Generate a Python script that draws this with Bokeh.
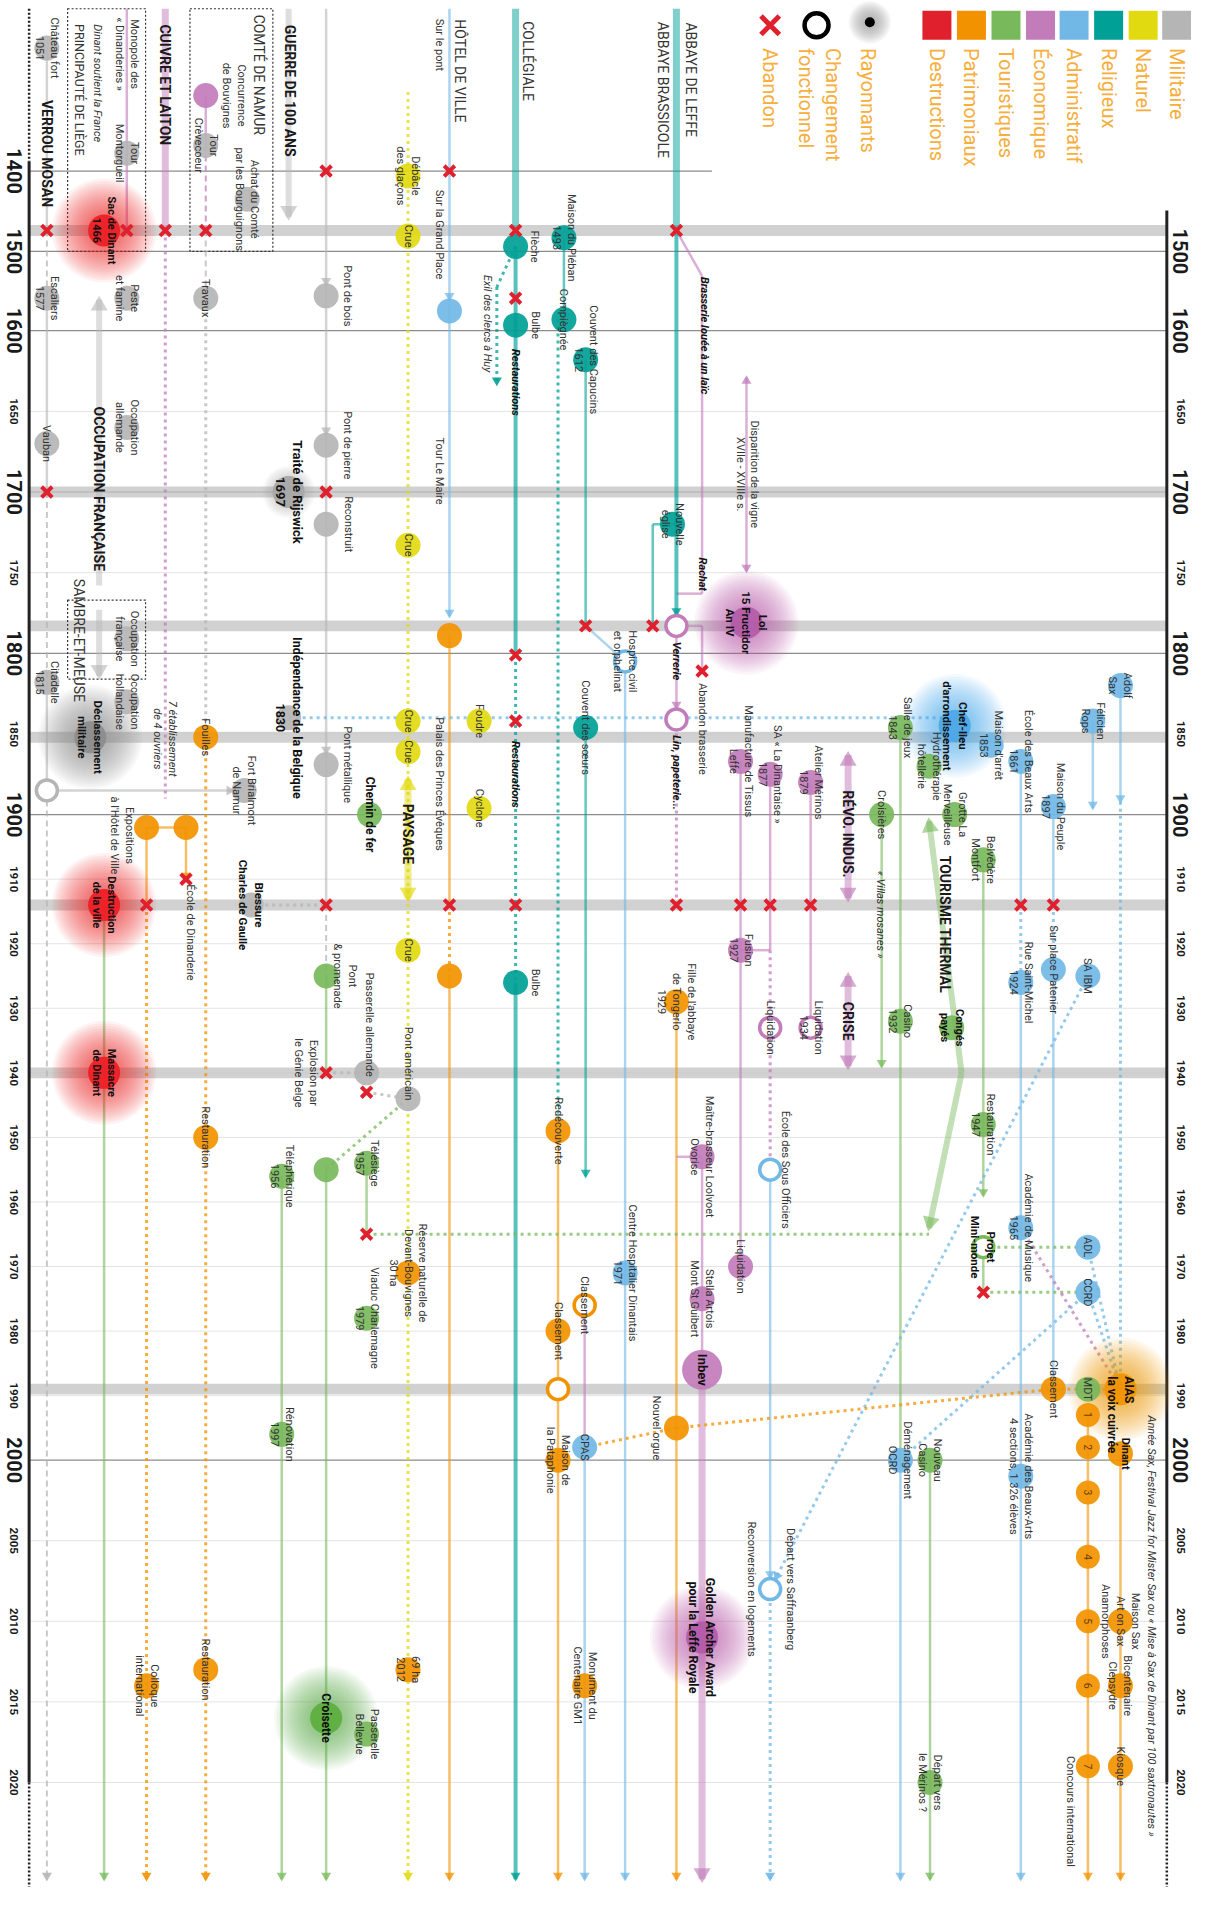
import math
from bokeh.plotting import figure
from bokeh.models import Range1d
from bokeh.embed import file_html
from bokeh.resources import INLINE
from bokeh.core.properties import value

FONT = "Roboto"
ROT = -math.pi / 2

# ---------------- categories ----------------
CAT_COLORS = {"mil": "#b5b5b5", "nat": "#e2da10", "rel": "#00a096", "adm": "#72b8e6",
              "eco": "#c27cba", "tou": "#78b95c", "pat": "#f39200", "des": "#e0202c"}
GLOW_COLORS = {"mil": "#8c8c8c", "nat": "#e2da10", "rel": "#00a096", "adm": "#4aa6e6",
               "eco": "#b35aa8", "tou": "#5aad3c", "pat": "#f39200", "des": "#ee1c24"}
LEGEND_CATS = ["des", "pat", "tou", "eco", "adm", "rel", "nat", "mil"]
LEGEND_LABELS = ["Destructions", "Patrimoniaux", "Touristiques", "Économique",
                 "Administratif", "Religieux", "Naturel", "Militaire"]

# ---------------- timeline scale (piecewise, as in the graphic) ----------------
SCALE_YEARS = [1050, 1400, 1500, 1600, 1900, 2000, 2020]
SCALE_PIX = [48, 172, 253, 333, 821, 1472, 1797]

MAJOR_YEARS = [1400, 1500, 1600, 1700, 1800, 1900, 2000]
MINOR_YEARS = [1650, 1750, 1850, 1910, 1920, 1930, 1940, 1950, 1960, 1970, 1980, 1990,
               2005, 2010, 2015, 2020]
BAND_YEARS = [1474, 1700, 1783, 1852, 1914, 1940, 1989]
TOP_YEAR, END_YEAR = 938, 2026

# ---------------- lanes (layout) ----------------
LANE_X = {
    "verrou": 47, "declass": 91, "occup": 100, "sac": 105, "monop": 128, "expo": 148, "cuivre": 167,
    "ecole": 188, "creve": 208, "brial": 247, "achat": 250, "blessure": 254, "teleph": 285,
    "guerre": 292, "pont": 330, "passer": 371, "chemin": 374, "nat": 413, "hdv": 455, "foudre": 485,
    "exil": 503, "coll": 522, "redec": 565, "pleban": 571, "classe": 592, "capu": 593, "hosp": 633,
    "eglise": 661, "eglise2": 681, "leffe": 685, "brass": 711, "manuf": 750, "loi": 756,
    "dinant": 780, "merinos": 821, "revo": 859, "crois": 893, "salle": 912, "hydro": 941,
    "casino2": 942, "conges": 964, "chef": 967, "therm": 974, "belv": 996, "arret": 1004,
    "beaux": 1034, "peuple": 1067, "ibm": 1102, "rops": 1107, "sax": 1135,
}

# ---------------- events: lane, year, category, kind, label ----------------
EVENTS = [
    ("verrou", 1050, "mil", "dot", "Château fort\n1051"),
    ("verrou", 1474, "des", "cross", ""),
    ("verrou", 1559, "mil", "dot", "Escaliers\n1577"),
    ("verrou", 1670, "mil", "dot", "Vauban"),
    ("verrou", 1700, "des", "cross", ""),
    ("verrou", 1818, "mil", "dot", "Citadelle\n1815"),
    ("verrou", 1885, "mil", "ring", ""),
    ("brial", 1885, "mil", "dot", "Fort Brialmont\nde Namur"),
    ("sac", 1474, "des", "glow", "Sac de Dinant\n1466"),
    ("monop", 1349, "mil", "dot", "Tour\nMontorgueil"),
    ("monop", 1474, "des", "cross", ""),
    ("monop", 1559, "mil", "dot", "Peste\net famine"),
    ("monop", 1660, "mil", "dot", "Occupation\nallemande"),
    ("monop", 1791, "mil", "dot", "Occupation\nfrançaise"),
    ("monop", 1830, "mil", "dot", "Occupation\nhollandaise"),
    ("declass", 1852, "mil", "glow", "Déclassement\nmilitaire"),
    ("cuivre", 1474, "des", "cross", ""),
    ("creve", 1185, "eco", "dot", "Concurrence\nde Bouvignes"),
    ("creve", 1327, "mil", "dot", "Tour\nCrèvecoeur"),
    ("creve", 1474, "des", "cross", ""),
    ("creve", 1559, "mil", "dot", "Travaux"),
    ("creve", 1852, "pat", "dot", "Fouilles"),
    ("creve", 1950, "pat", "dot", "Restauration"),
    ("creve", 2013, "pat", "dot", "Restauration"),
    ("achat", 1435, "mil", "dot", "Achat du Comté\npar les Bourguignons"),
    ("guerre", 1700, "mil", "halo", "Traité de Rijswick\n1697"),
    ("guerre", 1840, "mil", "dot", "Indépendance de la Belgique\n1830"),
    ("blessure", 1914, "mil", "dot", "Blessure\nCharles de Gaulle"),
    ("pont", 1400, "des", "cross", ""),
    ("pont", 1556, "mil", "dot", "Pont de bois"),
    ("pont", 1671, "mil", "dot", "Pont de pierre"),
    ("pont", 1700, "des", "cross", ""),
    ("pont", 1720, "mil", "dot", "Reconstruit"),
    ("pont", 1869, "mil", "dot", "Pont métallique"),
    ("pont", 1914, "des", "cross", ""),
    ("pont", 1925, "tou", "dot", "Pont\n& promenade"),
    ("pont", 1940, "des", "cross", "Explosion par\nle Génie Belge"),
    ("passer", 1940, "mil", "dot", "Passerelle allemande"),
    ("passer", 1943, "des", "cross", ""),
    ("nat", 1944, "mil", "dot", "Pont américain"),
    ("pont", 1955, "tou", "dot", ""),
    ("pont", 2016, "tou", "glow", "Croisette"),
    ("passer", 2017, "tou", "dot", "Passerelle\nBellevue"),
    ("passer", 1954, "tou", "dot", "Télésiège\n1957"),
    ("passer", 1965, "des", "cross", ""),
    ("passer", 1978, "tou", "dot", "Viaduc Charlemagne\n1979"),
    ("chemin", 1900, "tou", "dot", "Chemin de fer"),
    ("teleph", 1956, "tou", "dot", "Téléphérique\n1956"),
    ("teleph", 1996, "tou", "dot", "Rénovation\n1997"),
    ("nat", 1406, "nat", "dot", "Débâcle\ndes glaçons"),
    ("nat", 1481, "nat", "dot", "Crue"),
    ("nat", 1733, "nat", "dot", "Crue"),
    ("nat", 1842, "nat", "dot", "Crue"),
    ("nat", 1861, "nat", "dot", "Crue"),
    ("nat", 1921, "nat", "dot", "Crue"),
    ("nat", 1971, "pat", "dot", "Réserve naturelle de\nDevant-Bouvignes\n30 ha"),
    ("nat", 2013, "pat", "dot", "69 ha\n2012"),
    ("foudre", 1842, "nat", "dot", "Foudre"),
    ("foudre", 1896, "nat", "dot", "Cyclone"),
    ("hdv", 1400, "des", "cross", ""),
    ("hdv", 1575, "adm", "dot", ""),
    ("hdv", 1789, "pat", "dot", ""),
    ("hdv", 1914, "des", "cross", ""),
    ("hdv", 1925, "pat", "dot", ""),
    ("coll", 1474, "des", "cross", ""),
    ("coll", 1494, "rel", "dot", "Flèche"),
    ("coll", 1559, "des", "cross", ""),
    ("coll", 1593, "rel", "dot", "Bulbe"),
    ("coll", 1801, "des", "cross", ""),
    ("coll", 1842, "des", "cross", ""),
    ("coll", 1914, "des", "cross", ""),
    ("coll", 1926, "rel", "dot", "Bulbe"),
    ("pleban", 1483, "rel", "dot", "Maison du Pléban\n1493"),
    ("pleban", 1586, "rel", "dot", "Compiègnée"),
    ("redec", 1949, "pat", "dot", "Redécouverte"),
    ("redec", 1980, "pat", "dot", "Classement"),
    ("redec", 1989, "pat", "ring", ""),
    ("redec", 2000, "pat", "dot", "Maison de\nla Pataphonie"),
    ("capu", 1618, "rel", "dot", "Couvent des Capucins\n1612"),
    ("capu", 1783, "des", "cross", ""),
    ("hosp", 1805, "adm", "ring", "Hospice civil\net orphelinat"),
    ("capu", 1846, "rel", "dot", "Couvent des sœurs"),
    ("hosp", 1971, "adm", "dot", "Centre Hospitalier Dinantais\n1971"),
    ("classe", 1976, "pat", "ring", "Classement"),
    ("classe", 1998, "adm", "dot", "CPAS"),
    ("classe", 2014, "pat", "dot", "Monument du\nCentenaire GM1"),
    ("leffe", 1474, "des", "cross", ""),
    ("eglise2", 1720, "rel", "dot", "Nouvelle\néglise"),
    ("eglise", 1783, "des", "cross", ""),
    ("leffe", 1783, "eco", "ring", "Verrerie"),
    ("leffe", 1841, "eco", "ring", "Lin, papeterie..."),
    ("leffe", 1914, "des", "cross", ""),
    ("leffe", 1929, "pat", "dot", "Fille de l'abbaye\nde Tongerlo\n1929"),
    ("leffe", 1995, "pat", "dot", "Nouvel orgue"),
    ("brass", 1811, "des", "cross", "Abandon brasserie"),
    ("brass", 1953, "eco", "dot", "Maître-brasseur Loolvoet\nOvorise"),
    ("brass", 1975, "eco", "dot", "Stella Artois\nMont St Guibert"),
    ("brass", 1986, "eco", "big", "Inbev"),
    ("brass", 2011, "eco", "glow", "Golden Archer Award\npour la Leffe Royale"),
    ("loi", 1781, "eco", "glow", "Loi\n15 Fructidor\nAn IV"),
    ("manuf", 1867, "eco", "dot", "Manufacture de Tissus\nLeffe"),
    ("manuf", 1914, "des", "cross", ""),
    ("manuf", 1921, "eco", "dot", "Fusion\n1927"),
    ("manuf", 1970, "eco", "dot", "Liquidation"),
    ("dinant", 1875, "eco", "dot", "SA « La Dinantaise »\n1877"),
    ("dinant", 1914, "des", "cross", ""),
    ("dinant", 1933, "eco", "ring", "Liquidation"),
    ("dinant", 1955, "adm", "ring", "École des Sous Officiers"),
    ("dinant", 2008, "adm", "ring", "Reconversion en logements"),
    ("merinos", 1880, "eco", "dot", "Atelier Mérinos\n1879"),
    ("merinos", 1914, "des", "cross", ""),
    ("merinos", 1933, "eco", "ring", "Liquidation\n1934"),
    ("crois", 1900, "tou", "dot", "Croisières"),
    ("salle", 1846, "tou", "dot", "Salle de jeux\n1843"),
    ("salle", 1932, "tou", "dot", "Casino\n1932"),
    ("salle", 2000, "adm", "dot", "Déménagement\nOCRD"),
    ("hydro", 1870, "tou", "dot", "Hydrothérapie\nhôtellerie"),
    ("casino2", 2000, "tou", "dot", "Nouveau\nCasino"),
    ("casino2", 2020, "tou", "dot", "Départ vers\nle Mérinos ?"),
    ("chef", 1845, "adm", "glow", "Chef-lieu\nd'arrondissement"),
    ("chef", 1900, "tou", "dot", "Grotte La\nMerveilleuse"),
    ("conges", 1933, "tou", "dot", "Congés\npayés"),
    ("belv", 1907, "tou", "dot", "Belvédère\nMontfort"),
    ("belv", 1948, "tou", "dot", "Restauration\n1947"),
    ("belv", 1967, "tou", "ring", "Projet\nMini-monde"),
    ("belv", 1974, "des", "cross", ""),
    ("arret", 1857, "adm", "dot", "Maison d'arrêt\n1853"),
    ("beaux", 1867, "adm", "dot", "École des Beaux Arts\n1861"),
    ("beaux", 1914, "des", "cross", ""),
    ("beaux", 1926, "adm", "dot", "Rue Saint-Michel\n1924"),
    ("beaux", 1964, "adm", "dot", "Académie de Musique\n1965"),
    ("beaux", 2001, "adm", "dot", "Académie des Beaux-Arts\n4 sections, 1 326 élèves"),
    ("peuple", 1895, "adm", "dot", "Maison du Peuple\n1897"),
    ("peuple", 1914, "des", "cross", ""),
    ("peuple", 1924, "adm", "dot", "Sur place Patenier"),
    ("peuple", 1989, "pat", "dot", "Classement"),
    ("rops", 1842, "adm", "dot", "Félicien\nRops"),
    ("sax", 1820, "adm", "dot", "Adolf\nSax"),
    ("ibm", 1925, "adm", "dot", "SA IBM"),
    ("ibm", 1967, "adm", "dot", "ADL"),
    ("ibm", 1974, "adm", "dot", "CCRD"),
    ("ibm", 1989, "tou", "dot", "MDT"),
    ("sax", 1989, "pat", "glow", "AIAS\nla voix cuivrée"),
    ("ibm", 1993, "pat", "num", "1"),
    ("ibm", 1998, "pat", "num", "2"),
    ("ibm", 2002, "pat", "num", "3"),
    ("ibm", 2006, "pat", "num", "4"),
    ("ibm", 2010, "pat", "num", "5"),
    ("ibm", 2014, "pat", "num", "6"),
    ("ibm", 2019, "pat", "num", "7"),
    ("sax", 1999, "pat", "dot", "Dinant"),
    ("sax", 2010, "pat", "dot", "Maison Sax\nArt on Sax\nAnamorphoses"),
    ("sax", 2014, "pat", "dot", "Bicentenaire\nClepsydre"),
    ("sax", 2019, "pat", "dot", "Kiosque"),
    ("expo", 1902, "pat", "dot", "Expositions\nà l'Hôtel de Ville"),
    ("ecole", 1902, "pat", "dot", ""),
    ("ecole", 1910, "des", "cross", "École de Dinanderie"),
    ("expo", 1914, "des", "cross", ""),
    ("expo", 2014, "pat", "dot", "Colloque\ninternational"),
    ("sac", 1914, "des", "glow", "Destruction\nde la ville"),
    ("sac", 1940, "des", "glow", "Massacre\nde Dinant"),
]

# ---------------- connections: from lane/year -> to lane/year, category, style, arrow ----------------
LINKS = [
    ("verrou", 1050, "verrou", 1474, "mil", "solid", ""),
    ("verrou", 1474, "verrou", 1559, "mil", "dash", ""),
    ("verrou", 1559, "verrou", 1700, "mil", "solid", ""),
    ("verrou", 1700, "verrou", 1818, "mil", "dash", ""),
    ("verrou", 1818, "verrou", 1885, "mil", "solid", ""),
    ("verrou", 1885, "verrou", 2026, "mil", "dash", "end"),
    ("verrou", 1885, "brial", 1885, "mil", "solid", "end"),
    ("monop", 938, "monop", 1474, "eco", "solid", ""),
    ("cuivre", 938, "cuivre", 1474, "eco", "thick", ""),
    ("cuivre", 1474, "cuivre", 1890, "eco", "dot", ""),
    ("occup", 1561, "occup", 1758, "mil", "xthick", "start"),
    ("occup", 1773, "occup", 1814, "mil", "xthick", "end"),
    ("creve", 1185, "creve", 1327, "eco", "solid", ""),
    ("creve", 1327, "creve", 1474, "eco", "dash", ""),
    ("creve", 1474, "creve", 1559, "mil", "dash", ""),
    ("creve", 1559, "creve", 1852, "mil", "dot", ""),
    ("creve", 1852, "creve", 2026, "pat", "dot", "end"),
    ("guerre", 938, "guerre", 1457, "mil", "xthick", "end"),
    ("pont", 938, "pont", 1556, "mil", "solid", "end"),
    ("pont", 1556, "pont", 1671, "mil", "solid", "end"),
    ("pont", 1671, "pont", 1869, "mil", "solid", "end"),
    ("pont", 1869, "pont", 1914, "mil", "solid", ""),
    ("pont", 1914, "pont", 1925, "mil", "dash", ""),
    ("pont", 1925, "pont", 1940, "tou", "solid", ""),
    ("pont", 1940, "passer", 1940, "mil", "dot", ""),
    ("passer", 1943, "nat", 1944, "mil", "dot", ""),
    ("nat", 1944, "pont", 1955, "tou", "dot", ""),
    ("pont", 1955, "pont", 2026, "tou", "solid", "end"),
    ("blessure", 1914, "pont", 1914, "mil", "dot", ""),
    ("teleph", 1956, "teleph", 2026, "tou", "solid", "end"),
    ("passer", 1954, "passer", 1965, "tou", "solid", ""),
    ("passer", 1965, "hydro", 1965, "tou", "dot", ""),
    ("guerre", 1840, "chef", 1840, "adm", "dot", ""),
    ("nat", 1175, "nat", 2026, "nat", "dot", "end"),
    ("nat", 1878, "nat", 1913, "nat", "thick", "both"),
    ("hdv", 938, "hdv", 1575, "adm", "solid", "end"),
    ("hdv", 1575, "hdv", 1777, "adm", "solid", "end"),
    ("hdv", 1789, "hdv", 1914, "pat", "solid", ""),
    ("hdv", 1914, "hdv", 1925, "pat", "dot", ""),
    ("hdv", 1925, "hdv", 2026, "pat", "solid", "end"),
    ("coll", 938, "coll", 1474, "rel", "thick", ""),
    ("coll", 1494, "coll", 1801, "rel", "medium", ""),
    ("coll", 1801, "coll", 1926, "rel", "dot", ""),
    ("coll", 1926, "coll", 2026, "rel", "medium", "end"),
    ("coll", 1494, "exil", 1545, "rel", "dot", ""),
    ("exil", 1545, "exil", 1633, "rel", "dot", "end"),
    ("pleban", 1483, "pleban", 1586, "rel", "solid", ""),
    ("redec", 1586, "redec", 1949, "rel", "dot", ""),
    ("redec", 1949, "redec", 2026, "pat", "solid", "end"),
    ("capu", 1618, "capu", 1783, "rel", "solid", ""),
    ("capu", 1783, "hosp", 1805, "adm", "solid", ""),
    ("hosp", 1805, "hosp", 2026, "adm", "solid", "end"),
    ("capu", 1846, "capu", 1956, "rel", "solid", "end"),
    ("classe", 1976, "classe", 1998, "eco", "solid", ""),
    ("classe", 1998, "classe", 2026, "adm", "solid", "end"),
    ("leffe", 938, "leffe", 1474, "rel", "thick", ""),
    ("leffe", 1474, "leffe", 1783, "rel", "medium", "end"),
    ("leffe", 1720, "eglise", 1720, "rel", "solid", ""),
    ("eglise", 1720, "eglise", 1783, "rel", "solid", ""),
    ("leffe", 1783, "leffe", 1841, "eco", "solid", "end"),
    ("leffe", 1841, "leffe", 1914, "eco", "dot", ""),
    ("leffe", 1929, "leffe", 2026, "pat", "solid", "end"),
    ("leffe", 1474, "brass", 1531, "eco", "solid", ""),
    ("brass", 1531, "brass", 1763, "eco", "solid", ""),
    ("brass", 1763, "leffe", 1763, "eco", "solid", ""),
    ("leffe", 1783, "brass", 1783, "eco", "solid", ""),
    ("brass", 1783, "brass", 1811, "eco", "solid", ""),
    ("leffe", 1953, "brass", 1953, "eco", "solid", ""),
    ("brass", 1953, "brass", 1986, "eco", "solid", ""),
    ("brass", 1986, "brass", 2026, "eco", "thick", "end"),
    ("loi", 1629, "loi", 1749, "eco", "solid", "both"),
    ("manuf", 1867, "manuf", 1970, "eco", "solid", ""),
    ("dinant", 1875, "dinant", 1921, "eco", "solid", ""),
    ("dinant", 1921, "manuf", 1921, "eco", "solid", ""),
    ("dinant", 1921, "dinant", 1955, "eco", "dot", ""),
    ("dinant", 1955, "dinant", 2008, "adm", "solid", "end"),
    ("dinant", 2008, "dinant", 2026, "adm", "dot", "end"),
    ("merinos", 1880, "merinos", 1933, "eco", "solid", ""),
    ("revo", 1863, "revo", 1913, "eco", "thick", "both"),
    ("revo", 1925, "revo", 1939, "eco", "thick", "both"),
    ("crois", 1900, "crois", 1939, "tou", "solid", "end"),
    ("salle", 1846, "salle", 2000, "tou", "solid", ""),
    ("salle", 2000, "salle", 2026, "adm", "solid", "end"),
    ("casino2", 2000, "casino2", 2026, "tou", "solid", "end"),
    ("hydro", 1901, "therm", 1940, "tou", "xthick", "start"),
    ("therm", 1940, "hydro", 1964, "tou", "xthick", "end"),
    ("belv", 1907, "belv", 1959, "tou", "solid", "end"),
    ("belv", 1967, "belv", 1974, "tou", "solid", ""),
    ("belv", 1967, "ibm", 1967, "tou", "dot", ""),
    ("belv", 1974, "ibm", 1974, "tou", "dot", ""),
    ("beaux", 1867, "beaux", 1914, "adm", "solid", ""),
    ("beaux", 1914, "beaux", 1926, "adm", "dot", ""),
    ("beaux", 1926, "beaux", 2026, "adm", "solid", "end"),
    ("peuple", 1895, "peuple", 1914, "adm", "solid", ""),
    ("peuple", 1914, "peuple", 1924, "adm", "dot", ""),
    ("peuple", 1924, "peuple", 1989, "adm", "solid", ""),
    ("rops", 1842, "rops", 1896, "adm", "solid", "end"),
    ("sax", 1820, "sax", 1892, "adm", "solid", "end"),
    ("sax", 1892, "sax", 1989, "adm", "dot", ""),
    ("ibm", 1925, "dinant", 2008, "adm", "dot", "end"),
    ("ibm", 1974, "salle", 2000, "adm", "dot", ""),
    ("ibm", 1967, "sax", 1989, "adm", "dot", ""),
    ("ibm", 1974, "sax", 1989, "adm", "dot", ""),
    ("beaux", 1964, "sax", 1989, "eco", "dot", ""),
    ("ibm", 1993, "ibm", 2026, "pat", "solid", "end"),
    ("sax", 1999, "sax", 2026, "pat", "solid", "end"),
    ("classe", 1998, "leffe", 1995, "pat", "dot", ""),
    ("leffe", 1995, "peuple", 1989, "pat", "dot", ""),
    ("peuple", 1989, "sax", 1989, "pat", "dot", ""),
    ("expo", 1902, "ecole", 1902, "pat", "solid", ""),
    ("expo", 1902, "expo", 1914, "pat", "solid", ""),
    ("expo", 1914, "expo", 2026, "pat", "dot", "end"),
    ("ecole", 1902, "ecole", 1910, "pat", "solid", "end"),
    ("sac", 1914, "sac", 2026, "tou", "solid", "end"),
]

# ---------------- free annotations: text, x, year, kind ----------------
NOTES = [
    ("VERROU MOSAN", 47, 1350, "section"),
    ("PRINCIPAUTÉ DE LIÈGE", 80, 1169, "lane12"),
    ("Dinant soutient la France", 98, 1150, "it"),
    ("Monopole des\n« Dinanderies »", 128, 1067, "note"),
    ("CUIVRE ET LAITON", 167, 1155, "section"),
    ("COMTÉ DE NAMUR", 262, 1126, "lane"),
    ("GUERRE DE 100 ANS", 293, 1171, "section"),
    ("OCCUPATION FRANÇAISE", 100, 1698, "section"),
    ("SAMBRE-ET-MEUSE", 80, 1792, "lane"),
    ("7 établissement\nde 4 ouvriers", 167, 1853, "it"),
    ("HÔTEL DE VILLE", 466, 1115, "lane"),
    ("Sur le pont", 445, 1041, "note"),
    ("Sur la Grand Place", 445, 1479, "note"),
    ("Tour Le Maire", 445, 1687, "note"),
    ("Palais des Princes Évêques", 445, 1881, "note"),
    ("PAYSAGE", 413, 1903, "section"),
    ("COLLÉGIALE", 535, 1087, "lane"),
    ("Restaurations", 522, 1632, "bi"),
    ("Restaurations", 522, 1875, "bi"),
    ("Exil des clercs à Huy", 494, 1591, "it"),
    ("ABBAYE BRASSICOLE", 671, 1169, "lane"),
    ("ABBAYE DE LEFFE", 700, 1140, "lane"),
    ("Brasserie louée à un laïc", 713, 1603, "bi"),
    ("Rachat", 711, 1751, "bi"),
    ("Disparition de la vigne\nXVIIe - XVIIIe s.", 757, 1689, "note"),
    ("RÉVO. INDUS.", 859, 1903, "section"),
    ("CRISE", 859, 1932, "section"),
    ("TOURISME THERMAL", 957, 1917, "section"),
    ("« Villas mosanes »", 892, 1915.5, "it"),
    ("Départ vers Saffraanberg", 801, 2008, "note"),
    ("Concours international", 1084, 2021.8, "note"),
    ("Année Sax, Festival Jazz for Mister Sax ou « Mise à Sax de Dinant par 100 saxtronautes »",
     1166, 2010.3, "it"),
]

# ---------------- layout / style tables ----------------
LABEL_LAYOUT = {
    "Concurrence\nde Bouvignes": (29, 0, "center"),
    "Pont de bois": (22, 0, "center"),
    "Pont de pierre": (22, 0, "center"),
    "Reconstruit": (23, 0, "center"),
    "Pont métallique": (22, 0, "center"),
    "Pont\n& promenade": (19, 0, "center"),
    "Flèche": (19, 0, "center"),
    "Bulbe": (20, 0, "center"),
    "Explosion par\nle Génie Belge": (-20, 0, "center"),
    "Passerelle allemande": (3, 4, "right"),
    "Pont américain": (0, 2, "right"),
    "Expositions\nà l'Hôtel de Ville": (-25, 8, "center"),
    "École de Dinanderie": (5, 5, "left"),
    "Verrerie": (0, 16, "left"),
    "Lin, papeterie...": (0, 16, "left"),
    "Abandon brasserie": (0, 12, "left"),
    "École des Sous Officiers": (16, 0, "center"),
    "Reconversion en logements": (-19, 0, "center"),
    "Nouvel orgue": (-20, 0, "center"),
    "AIAS\nla voix cuivrée": (0, -13, "left"),
    "Dinant": (5, 0, "center"),
}
BOLD_LABELS = {
    "Sac de Dinant\n1466": 11, "Déclassement\nmilitaire": 11.5, "Destruction\nde la ville": 11,
    "Massacre\nde Dinant": 11, "Traité de Rijswick\n1697": 13,
    "Indépendance de la Belgique\n1830": 12.5, "Blessure\nCharles de Gaulle": 11.5,
    "Chemin de fer": 12, "Croisette": 12, "Inbev": 13,
    "Golden Archer Award\npour la Leffe Royale": 12.5, "Loi\n15 Fructidor\nAn IV": 11.5,
    "Chef-lieu\nd'arrondissement": 11.5, "Congés\npayés": 11, "Projet\nMini-monde": 11.5,
    "AIAS\nla voix cuivrée": 12, "Dinant": 11,
}
BOLD_ITALIC_LABELS = {"Verrerie", "Lin, papeterie..."}
NOTE_STYLE = {
    "section": (14, "bold", "#1a1a1a"),
    "lane": (14, "normal", "#333333"),
    "lane12": (12.5, "normal", "#333333"),
    "note": (11, "normal", "#333333"),
    "it": (11, "italic", "#333333"),
    "bi": (11, "bold italic", "#111111"),
}
LINE_STYLE = {  # width, alpha, dash
    "solid": (2.5, 0.6, "solid"),
    "medium": (4, 0.65, "solid"),
    "thick": (7, 0.5, "solid"),
    "xthick": (6, 0.45, "solid"),
    "dash": (2, 0.75, "6 4"),
    "dot": (3, 0.75, "3 4"),
}
BOXES = [(68, 147, 938, 1500), (192, 276, 938, 1500), (68, 147, 1767, 1816)]


def ty(yr):
    ys, ps = SCALE_YEARS, SCALE_PIX
    if yr <= ys[0]:
        i = 0
    elif yr >= ys[-1]:
        i = len(ys) - 2
    else:
        i = max(k for k in range(len(ys) - 1) if ys[k] <= yr)
    return ps[i] + (yr - ys[i]) * (ps[i + 1] - ps[i]) / (ys[i + 1] - ys[i])


p = figure(width=1191, height=1894, x_range=Range1d(0, 1207), y_range=Range1d(1910, 0),
           output_backend="svg", toolbar_location=None, x_axis_location=None,
           y_axis_location=None, min_border=0)
p.grid.visible = False
p.outline_line_color = None
p.background_fill_color = "white"
p.border_fill_color = "white"

AXL, AXR = 29, 1182

# --- faint and major year lines
p.segment(x0=[AXL] * len(MINOR_YEARS), y0=[ty(y) for y in MINOR_YEARS],
          x1=[AXR] * len(MINOR_YEARS), y1=[ty(y) for y in MINOR_YEARS],
          line_color="#e4e4e4", line_width=1)
maj = [y for y in MAJOR_YEARS]
p.segment(x0=[AXL] * len(maj), y0=[ty(y) for y in maj],
          x1=[721 if y == 1400 else AXR for y in maj], y1=[ty(y) for y in maj],
          line_color="#8c8c8c", line_width=1.3)

# --- event bands
p.hbar(y=[ty(b) for b in BAND_YEARS], left=AXL, right=AXR, height=11,
       fill_color="#c6c6c6", fill_alpha=0.8, line_color=None)

# --- dotted boxes
p.quad(left=[b[0] for b in BOXES], right=[b[1] for b in BOXES],
       top=[ty(b[2]) for b in BOXES], bottom=[ty(b[3]) for b in BOXES],
       fill_color=None, line_color="#333333", line_width=1.2, line_dash="2 2")

# --- links
ev_pos = set((e[0], e[1]) for e in EVENTS if e[3] in ("dot", "ring", "big", "glow", "num", "halo"))
arrows = {"x": [], "y": [], "a": [], "s": [], "c": [], "al": []}
for style, (w, a, dash) in LINE_STYLE.items():
    sel = [l for l in LINKS if l[5] == style]
    if not sel:
        continue
    p.segment(x0=[LANE_X[l[0]] for l in sel], y0=[ty(l[1]) for l in sel],
              x1=[LANE_X[l[2]] for l in sel], y1=[ty(l[3]) for l in sel],
              line_color=[CAT_COLORS[l[4]] for l in sel], line_width=w, line_alpha=a,
              line_dash=dash)
for l in LINKS:
    if not l[6]:
        continue
    w, a, dash = LINE_STYLE[l[5]]
    size = 17 if l[5] in ("thick", "xthick") else 10
    ends = []
    if l[6] in ("end", "both"):
        ends.append(((l[2], l[3]), (l[0], l[1])))
    if l[6] in ("start", "both"):
        ends.append(((l[0], l[1]), (l[2], l[3])))
    for (le, ye), (ls, ys_) in ends:
        xe, yE, xs, yS = LANE_X[le], ty(ye), LANE_X[ls], ty(ys_)
        dx, dy = xe - xs, yE - yS
        L = math.hypot(dx, dy) or 1.0
        off = 15 if (le, ye) in ev_pos else size * 0.35
        arrows["x"].append(xe - dx / L * off)
        arrows["y"].append(yE - dy / L * off)
        arrows["a"].append(math.atan2(-dy, dx) - math.pi / 2)
        arrows["s"].append(size)
        arrows["c"].append(CAT_COLORS[l[4]])
        arrows["al"].append(min(1.0, a + 0.15))
p.scatter(x=arrows["x"], y=arrows["y"], marker="triangle", angle=arrows["a"], size=arrows["s"],
          fill_color=arrows["c"], fill_alpha=arrows["al"], line_color=None)

# --- axes lines
p.segment(x0=[AXL, AXL, AXR], y0=[ty(1372), ty(1372), ty(1449)], x1=[AXL, AXL, AXR],
          y1=[ty(1372), ty(2020), ty(2020)], line_color="#222222", line_width=3)
p.segment(x0=[AXL, AXL, AXR], y0=[ty(TOP_YEAR), ty(2020), ty(2020)], x1=[AXL, AXL, AXR],
          y1=[ty(1372), ty(END_YEAR) + 8, ty(END_YEAR) + 8], line_color="#222222",
          line_width=2.5, line_dash="2 2")

# --- glows (soft radial halo built from stacked translucent discs)
glow = [e for e in EVENTS if e[3] == "glow"]
gx = [LANE_X[e[0]] for e in glow]
gy = [ty(e[1]) for e in glow]
gc = [GLOW_COLORS[e[2]] for e in glow]
for sz in range(104, 30, -5):
    p.scatter(x=gx, y=gy, size=sz, fill_color=gc, fill_alpha=0.06, line_color=None)
p.scatter(x=gx, y=gy, size=32, fill_color=gc, fill_alpha=0.9, line_color=None)
halo = [e for e in EVENTS if e[3] == "halo"]
hx = [LANE_X[e[0]] for e in halo]
hy = [ty(e[1]) for e in halo]
for sz in range(52, 30, -4):
    p.scatter(x=hx, y=hy, size=sz, fill_color="#a0a0a0", fill_alpha=0.07, line_color=None)
p.scatter(x=hx, y=hy, size=32, fill_color="#a8a8a8", fill_alpha=0.95, line_color=None)

# --- dots
for kind, sz in (("dot", 25), ("num", 24), ("big", 40)):
    sel = [e for e in EVENTS if e[3] == kind]
    p.scatter(x=[LANE_X[e[0]] for e in sel], y=[ty(e[1]) for e in sel], size=sz,
              fill_color=[CAT_COLORS[e[2]] for e in sel], fill_alpha=0.92, line_color=None)
sel = [e for e in EVENTS if e[3] == "ring"]
p.scatter(x=[LANE_X[e[0]] for e in sel], y=[ty(e[1]) for e in sel], size=21,
          fill_color="white", line_color=[CAT_COLORS[e[2]] for e in sel], line_width=3.5)
sel = [e for e in EVENTS if e[3] == "cross"]
p.scatter(x=[LANE_X[e[0]] for e in sel], y=[ty(e[1]) for e in sel], size=15, marker="x",
          line_color=CAT_COLORS["des"], line_width=4)

# --- labels
labels = {}


def add_label(x, y, text, size, style, color, align="center"):
    key = (size, style, color, align)
    d = labels.setdefault(key, {"x": [], "y": [], "text": []})
    d["x"].append(x)
    d["y"].append(y)
    d["text"].append(text)


for lane, yr, cat, kind, text in EVENTS:
    if not text:
        continue
    dx, dy, align = LABEL_LAYOUT.get(text, (0, 0, "center"))
    if kind == "num":
        add_label(LANE_X[lane], ty(yr), text, 10.5, "normal", "#6b3d00")
    elif text in BOLD_LABELS:
        add_label(LANE_X[lane] + dx, ty(yr) + dy, text, BOLD_LABELS[text], "bold", "#111111", align)
    elif text in BOLD_ITALIC_LABELS:
        add_label(LANE_X[lane] + dx, ty(yr) + dy, text, 11, "bold italic", "#111111", align)
    else:
        add_label(LANE_X[lane] + dx, ty(yr) + dy, text, 11, "normal", "#333333", align)

for text, x, yr, kind in NOTES:
    size, style, color = NOTE_STYLE[kind]
    add_label(x, ty(yr), text, size, style, color)

# year labels
for yr in MAJOR_YEARS + MINOR_YEARS:
    big = yr in MAJOR_YEARS
    size = 20 if big else 11.5
    add_label(14, ty(yr), str(yr), size, "bold", "#1a1a1a")
    if yr != 1400:
        add_label(1196, ty(yr), str(yr), size, "bold", "#1a1a1a")

# legend
LEG_X = [949, 984, 1019, 1054, 1088, 1123, 1158, 1192]
p.scatter(x=LEG_X, y=[25] * len(LEG_X), marker="square", size=29,
          fill_color=[CAT_COLORS[c] for c in LEGEND_CATS], line_color=None)
for x, t in zip(LEG_X, LEGEND_LABELS):
    add_label(x, 48, t, 20, "normal", "#f6ae3c", "left")
for sz in range(42, 12, -4):
    p.scatter(x=[881], y=[22], size=sz, fill_color="#8a8a8a", fill_alpha=0.09, line_color=None)
p.scatter(x=[881], y=[22], size=10, fill_color="black", line_color=None)
add_label(879, 48, "Rayonnants", 20, "normal", "#f6ae3c", "left")
p.scatter(x=[827], y=[25], size=24, fill_color="white", line_color="black", line_width=4.5)
add_label(830, 48, "Changement\nfonctionnel", 20, "normal", "#f6ae3c", "left")
p.scatter(x=[780], y=[25], size=26, marker="x", line_color=CAT_COLORS["des"], line_width=5)
add_label(780, 48, "Abandon", 20, "normal", "#f6ae3c", "left")

for (size, style, color, align), d in labels.items():
    p.text(x=d["x"], y=d["y"], text=d["text"], angle=ROT, text_font=value(FONT),
           text_font_size=value(f"{size}px"), text_font_style=value(style),
           text_color=color, text_align=align, text_baseline="middle", text_line_height=1.15)

open("out.html", "w").write(file_html(p, INLINE))
